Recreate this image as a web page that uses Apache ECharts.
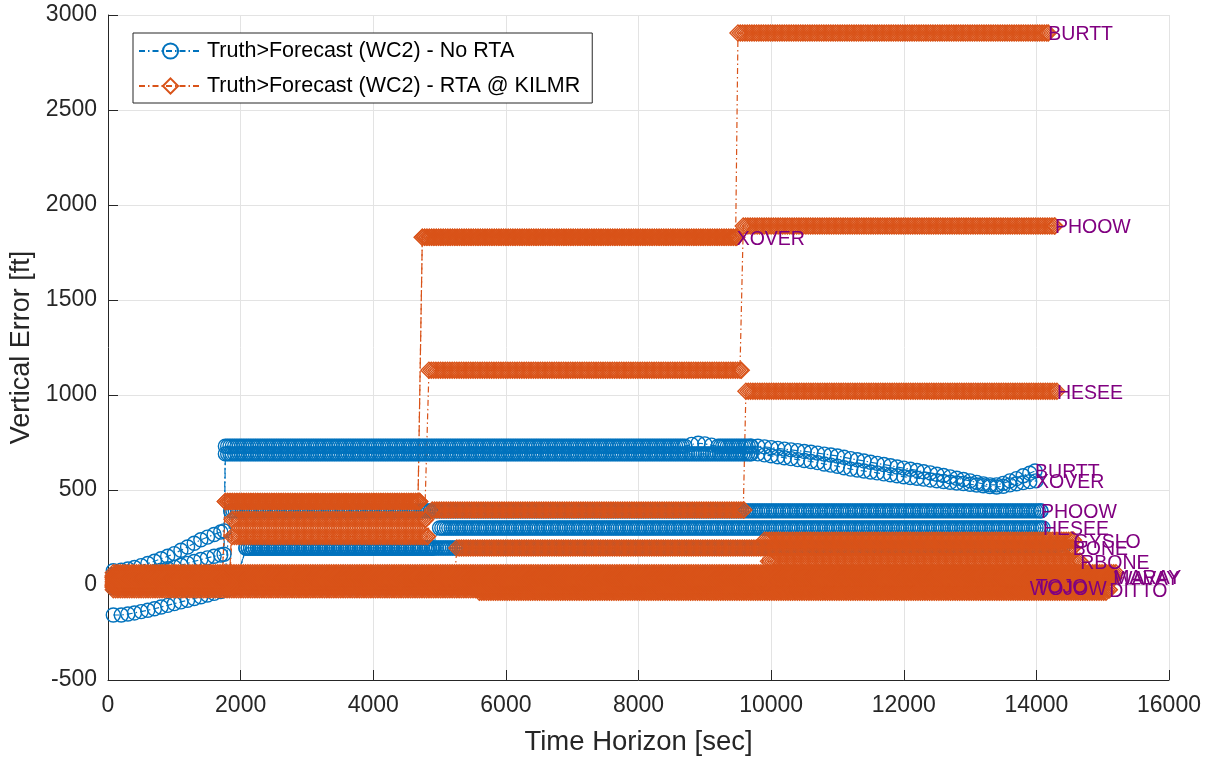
<!DOCTYPE html>
<html><head><meta charset="utf-8">
<script src="https://cdn.jsdelivr.net/npm/echarts@6/dist/echarts.min.js"></script>
<style>html,body{margin:0;padding:0;background:#fff}#c{width:1211px;height:760px}</style>
</head><body><div id="c"></div>
<script>
// ---------------- data ----------------
const xTicks = [0, 2000, 4000, 6000, 8000, 10000, 12000, 14000, 16000];
const yTicks = [-500, 0, 500, 1000, 1500, 2000, 2500, 3000];
const STEP = 35; // recording step of the time horizon [sec]

const NAME_NO = 'Truth>Forecast (WC2) - No RTA';
const NAME_RTA = 'Truth>Forecast (WC2) - RTA @ KILMR';

// sloped parts [t, value]
const riseUpper = [[80,75],[200,78],[300,84],[400,92],[500,102],[600,113],[700,125],[800,138],[900,151],[1000,165],[1100,183],[1200,200],[1300,220],[1400,238],[1500,252],[1600,266],[1700,279],[1750,285]];
const riseMid = [[80,40],[200,42],[300,44],[400,48],[500,54],[600,62],[700,70],[800,78],[900,86],[1000,94],[1100,104],[1200,114],[1300,124],[1400,134],[1500,143],[1600,151],[1700,158],[1750,162]];
const riseLow = [[80,-158],[200,-158],[300,-153],[400,-147],[500,-140],[600,-133],[700,-125],[800,-116],[900,-107],[1000,-98],[1100,-89],[1200,-80],[1300,-71],[1400,-62],[1500,-53],[1600,-44],[1700,-35],[1800,-24],[1900,-15]];
const bumpTop = [[8800,740],[8900,746],[9000,743],[9100,736]];
const declineUpper = [[9800,730],[9900,727],[10000,723],[10100,719],[10200,715],[10300,711],[10400,707],[10500,703],[10600,699],[10700,694],[10800,689],[10900,684],[11000,679],[11100,672],[11200,665],[11300,659],[11400,653],[11500,646],[11600,640],[11700,634],[11800,628],[11900,621],[12000,615],[12100,609],[12200,603],[12300,596],[12400,590],[12500,583],[12600,576],[12700,569],[12800,562],[12900,555],[13000,548],[13100,540],[13200,532],[13300,527],[13400,527],[13500,535],[13600,548],[13700,560],[13800,575],[13900,588],[13980,600]];
const declineLower = [[9800,690],[9900,685],[10000,680],[10100,675],[10200,670],[10300,665],[10400,660],[10500,655],[10600,650],[10700,644],[10800,637],[10900,631],[11000,625],[11100,617],[11200,610],[11300,605],[11400,600],[11500,595],[11600,590],[11700,585],[11800,580],[11900,575],[12000,570],[12100,566],[12200,562],[12300,557],[12400,553],[12500,549],[12600,545],[12700,541],[12800,537],[12900,534],[13000,530],[13100,526],[13200,522],[13300,518],[13400,516],[13500,520],[13600,527],[13700,533],[13800,539],[13900,544],[13995,548]];

// flat pieces: [tStart, tEnd, value]
// ---- No RTA (blue) ----
const bBURTT = [riseUpper, [1770, 8700, 730], bumpTop, [9200, 9700, 730], declineUpper];
const bXOVER = [riseMid, [1770, 9700, 690], declineLower];
const bPHOOW = [[80, 1780, 30], [1850, 14070, 390]];
const bHESEE = [riseLow, [2080, 4900, 195], [5000, 14100, 300]];
const bBONE  = [[80, 1950, 10], [2080, 14400, 195]];
const bZero1 = [[80, 14300, 55]];
const bZero2 = [[80, 14500, 20]];
const bZero3 = [[80, 14200, -15]];
// ---- RTA @ KILMR (orange) ----
const oBURTT = [[80, 1740, 30], [1770, 4700, 440], [4740, 9480, 1830], [9500, 14180, 2905]];
const oXOVER = [[80, 1740, 50], [1770, 4700, 440], [4740, 9480, 1830]];
const oPHOOW = [[80, 1840, 10], [1870, 4790, 345], [4840, 9550, 1130], [9580, 14280, 1890]];
const oHESEE = [[80, 1840, -10], [1870, 4820, 255], [4890, 9590, 395], [9620, 14310, 1020]];
const oBONE  = [[80, 5230, 20], [5260, 14550, 195]];
const oGYSLO = [[80, 9870, 40], [9900, 14560, 235]];
const oRBONE = [[80, 9930, 0], [9960, 14660, 125]];
const oTop   = [[80, 15200, 65]];
const oMARAY = [[80, 15160, 45]];
const oWAVAY = [[80, 15170, 38]];
const oDITTO = [[80, 15100, -25]];
const oTOJO  = [[80, 13990, -5]];
const oWOJOW = [[80, 13900, -12]];
const oLow   = [[80, 5570, 0], [5600, 15050, -38]];

const blueTraces = [
  [bZero1, ''], [bZero2, ''], [bZero3, ''], [bBONE, ''],
  [bHESEE, 'HESEE'], [bPHOOW, 'PHOOW'], [bXOVER, 'XOVER'], [bBURTT, 'BURTT']
];
const orangeTraces = [
  [oLow, ''], [oTop, ''], [oWOJOW, 'WOJOW'], [oTOJO, 'TOJO'], [oDITTO, 'DITTO'],
  [oWAVAY, 'WAVAY'], [oMARAY, 'MARAY'], [oRBONE, 'RBONE'], [oBONE, 'BONE'], [oGYSLO, 'GYSLO'],
  [oHESEE, 'HESEE'], [oPHOOW, 'PHOOW'], [oXOVER, 'XOVER'], [oBURTT, 'BURTT']
];

// ---------------- build ----------------
const FONT = '"Liberation Sans", Arial, Helvetica, sans-serif';
const BLUE = '#0072BD', ORANGE = '#D95319', PURPLE = '#800080';
const DASHDOT = [6, 3, 1.5, 3];

function buildData(pieces) {
  const out = [];
  for (const p of pieces) {
    if (Array.isArray(p[0])) { for (const q of p) out.push(q); }
    else {
      const [t0, t1, v] = p;
      for (let t = t0; t < t1; t += STEP) out.push([t, v]);
      out.push([t1, v]);
    }
  }
  return out;
}

function mkSeries(pieces, label, name, color, symbol, size) {
  return {
    type: 'line', name: name, data: buildData(pieces),
    symbol: symbol, symbolSize: size, showSymbol: true, showAllSymbol: true,
    lineStyle: { color: color, width: 1.2, type: DASHDOT },
    itemStyle: { color: 'rgba(255,255,255,0)', borderColor: color, borderWidth: 1.4 },
    emphasis: { disabled: true }, silent: true, animation: false, clip: false,
    endLabel: label ? { show: true, formatter: label, color: PURPLE, fontSize: 19.5, fontFamily: FONT, distance: 0, offset: [0, 2] } : { show: false },
    z: 2
  };
}

const series = [];
for (const [p, l] of blueTraces) series.push(mkSeries(p, l, NAME_NO, BLUE, 'circle', 14));
for (const [p, l] of orangeTraces) series.push(mkSeries(p, l, NAME_RTA, ORANGE, 'diamond', 16));

const chart = echarts.init(document.getElementById('c'), null, { renderer: 'canvas' });
chart.setOption({
  animation: false,
  backgroundColor: '#fff',
  textStyle: { fontFamily: FONT },
  grid: { left: 108, right: 42, top: 15, bottom: 80, containLabel: false, outerBoundsMode: 'none' },
  legend: {
    left: 133, top: 33, orient: 'vertical',
    padding: [7, 12, 6, 5], itemGap: 13, itemWidth: 63, itemHeight: 19,
    backgroundColor: '#fff', borderColor: '#262626', borderWidth: 1,
    textStyle: { fontSize: 21.5, color: '#000', fontFamily: FONT },
    data: [NAME_NO, NAME_RTA],
    selectedMode: false
  },
  xAxis: {
    type: 'value', min: xTicks[0], max: xTicks[xTicks.length - 1], interval: 2000,
    name: 'Time Horizon [sec]', nameLocation: 'middle', nameGap: 48,
    nameTextStyle: { fontSize: 27.5, color: '#262626', fontFamily: FONT },
    axisLine: { show: true, onZero: false, lineStyle: { color: '#262626', width: 1 } },
    axisTick: { show: true, inside: true, length: 10, lineStyle: { color: '#262626' } },
    axisLabel: { fontSize: 23, color: '#262626', margin: 14, fontFamily: FONT, formatter: v => String(v) },
    splitLine: { show: true, lineStyle: { color: '#e3e3e3', width: 1 } }
  },
  yAxis: {
    type: 'value', min: yTicks[0], max: yTicks[yTicks.length - 1], interval: 500,
    name: 'Vertical Error [ft]', nameLocation: 'middle', nameGap: 60,
    nameTextStyle: { fontSize: 27, color: '#262626', fontFamily: FONT },
    axisLine: { show: true, onZero: false, lineStyle: { color: '#262626', width: 1 } },
    axisTick: { show: true, inside: true, length: 10, lineStyle: { color: '#262626' } },
    axisLabel: { fontSize: 23, color: '#262626', margin: 11, fontFamily: FONT, padding: [4, 0, 0, 0], formatter: v => String(v) },
    splitLine: { show: true, lineStyle: { color: '#e3e3e3', width: 1 } }
  },
  series: series
});
</script>
</body></html>
